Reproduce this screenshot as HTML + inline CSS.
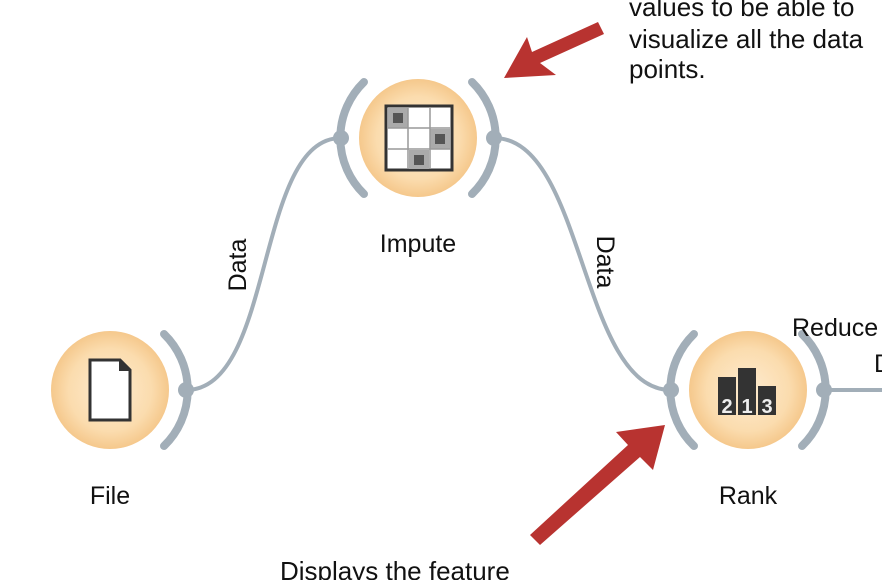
<!DOCTYPE html>
<html><head><meta charset="utf-8"><style>
html,body{margin:0;padding:0;background:#fff;}
svg{display:block;}
text{font-family:"Liberation Sans",Arial,sans-serif;fill:#111;}
</style></head><body>
<svg width="882" height="580" viewBox="0 0 882 580" xmlns="http://www.w3.org/2000/svg">
<defs>
<radialGradient id="g" cx="50%" cy="50%" r="50%">
<stop offset="0%" stop-color="#fdebd0"/>
<stop offset="70%" stop-color="#fbdcae"/>
<stop offset="100%" stop-color="#f5c88c"/>
</radialGradient>
</defs>
<g fill="none" stroke="#a2aeb8" stroke-width="4">
<path d="M186,390 C275,390 255,138 341,138"/>
<path d="M494,138 C585,138 580,390 671,390"/>
<path d="M824,390 L882,390"/>
</g>
<g>
<circle cx="110" cy="390" r="59" fill="url(#g)"/>
<circle cx="418" cy="138" r="59" fill="url(#g)"/>
<circle cx="748" cy="390" r="59" fill="url(#g)"/>
</g>
<g fill="none" stroke="#a2aeb8" stroke-width="8" stroke-linecap="round">
<path d="M164,334 A78,78 0 0 1 164,446"/>
<path d="M364,82 A78,78 0 0 0 364,194"/>
<path d="M472,82 A78,78 0 0 1 472,194"/>
<path d="M694,334 A78,78 0 0 0 694,446"/>
<path d="M802,334 A78,78 0 0 1 802,446"/>
</g>
<g fill="#a2aeb8">
<circle cx="186" cy="390" r="8"/>
<circle cx="341" cy="138" r="8"/>
<circle cx="494" cy="138" r="8"/>
<circle cx="671" cy="390" r="8"/>
<circle cx="824" cy="390" r="8"/>
</g>
<path d="M90,360 L120,360 L130,370 L130,420 L90,420 Z" fill="#fff" stroke="#333" stroke-width="3"/>
<path d="M120,360 L120,370 L130,370" fill="#333" stroke="#333" stroke-width="2"/>
<g>
<rect x="386" y="106" width="66" height="64" fill="#fff" stroke="#333" stroke-width="3"/>
<rect x="388" y="108" width="20" height="20" fill="#aaa"/>
<rect x="430" y="129" width="20" height="20" fill="#aaa"/>
<rect x="409" y="150" width="20" height="19" fill="#aaa"/>
<rect x="393" y="113" width="10" height="10" fill="#555"/>
<rect x="435" y="134" width="10" height="10" fill="#555"/>
<rect x="414" y="155" width="10" height="10" fill="#555"/>
<g stroke="#999" stroke-width="1.5"><line x1="408" y1="107" x2="408" y2="169"/><line x1="430" y1="107" x2="430" y2="169"/><line x1="387" y1="128" x2="451" y2="128"/><line x1="387" y1="149" x2="451" y2="149"/></g>
</g>
<g>
<rect x="718" y="377" width="18" height="38" fill="#333"/>
<rect x="738" y="368" width="18" height="47" fill="#333"/>
<rect x="758" y="386" width="18" height="29" fill="#333"/>
<text x="727" y="413" font-size="20" font-weight="bold" text-anchor="middle" style="fill:#eee">2</text>
<text x="747" y="413" font-size="20" font-weight="bold" text-anchor="middle" style="fill:#eee">1</text>
<text x="767" y="413" font-size="20" font-weight="bold" text-anchor="middle" style="fill:#eee">3</text>
</g>
<text x="110" y="504" font-size="25" text-anchor="middle">File</text>
<text x="418" y="252" font-size="25" text-anchor="middle">Impute</text>
<text x="748" y="504" font-size="25" text-anchor="middle">Rank</text>
<text transform="translate(246,265) rotate(-90)" font-size="25" text-anchor="middle">Data</text>
<text transform="translate(597,262) rotate(90)" font-size="25" text-anchor="middle">Data</text>
<text x="792" y="336" font-size="25">Reduce</text>
<text x="874" y="372" font-size="25">D</text>
<text x="629" y="16" font-size="26">values to be able to</text>
<text x="629" y="48" font-size="26">visualize all the data</text>
<text x="629" y="78" font-size="26">points.</text>
<text x="280" y="580" font-size="26">Displays the feature</text>
<g fill="#b83330">
<polygon points="504,78 527,37 532,52 598,22 604,34 540,63 556,75"/>
<polygon points="665,425 653,470 640,457 540,545 530,535 628,445 616,432"/>
</g>
</svg>
</body></html>
